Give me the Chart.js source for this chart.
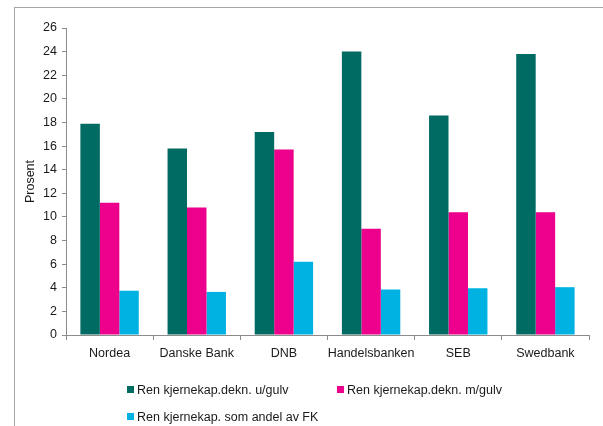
<!DOCTYPE html>
<html lang="no">
<head>
    <meta charset="UTF-8">
    <title>Ren kjernekapital</title>
    <script src="https://cdn.jsdelivr.net/npm/chart.js@4.4.0/dist/chart.umd.min.js"></script>
    <style>
        * { margin: 0; padding: 0; box-sizing: border-box; }
        body {
            width: 603px;
            height: 426px;
            background: #fff;
            font-family: 'Liberation Sans', Arial, sans-serif;
            position: relative;
            overflow: hidden;
        }
        .frame {
            position: absolute;
            left: 14px;
            top: 7px;
            width: 700px;
            height: 500px;
            border-left: 1px solid #a6a6a6;
            border-top: 1px solid #a6a6a6;
        }
        #wrap {
            position: absolute;
            left: 0;
            top: 0;
            width: 603px;
            height: 426px;
        }
        .legend {
            position: absolute;
            font-size: 12.5px;
            color: #1a1a1a;
            white-space: nowrap;
            line-height: 14px;
        }
        .legend i {
            display: inline-block;
            width: 7px;
            height: 7px;
            margin-right: 3px;
            vertical-align: 1px;
        }
    </style>
</head>
<body>
    <div class="frame"></div>
    <div id="wrap"><canvas id="chart" width="603" height="426"></canvas></div>
    <div id="legend"></div>

    <script>
        // data
        const banks = ['Nordea', 'Danske Bank', 'DNB', 'Handelsbanken', 'SEB', 'Swedbank'];
        const seriesNames = [
            'Ren kjernekap.dekn. u/gulv',
            'Ren kjernekap.dekn. m/gulv',
            'Ren kjernekap. som andel av FK'
        ];
        const utenGulv = [17.9, 15.8, 17.2, 24.0, 18.6, 23.8];
        const medGulv = [11.2, 10.8, 15.7, 9.0, 10.4, 10.4];
        const andelFK = [3.75, 3.65, 6.2, 3.85, 3.95, 4.05];
        const yTicks = [0, 2, 4, 6, 8, 10, 12, 14, 16, 18, 20, 22, 24, 26];

        const colors = ['#006b63', '#ec008c', '#00b2e2'];
        const values = [utenGulv, medGulv, andelFK];

        const axisColor = '#8c8c8c';
        const font = { family: "'Liberation Sans', Arial, sans-serif", size: 12.5 };

        new Chart(document.getElementById('chart'), {
            type: 'bar',
            data: {
                labels: banks,
                datasets: seriesNames.map((name, i) => ({
                    label: name,
                    data: values[i],
                    backgroundColor: colors[i],
                    borderWidth: 0,
                    categoryPercentage: 0.67,
                    barPercentage: 1.0
                }))
            },
            options: {
                responsive: false,
                animation: false,
                layout: { padding: { left: 19, right: 14, top: 28, bottom: 56 } },
                plugins: {
                    legend: { display: false },
                    tooltip: { enabled: false }
                },
                scales: {
                    x: {
                        grid: {
                            drawOnChartArea: false,
                            offset: true,
                            color: axisColor,
                            tickLength: 5
                        },
                        border: { color: axisColor },
                        ticks: { color: '#1a1a1a', font: font, padding: 6, maxRotation: 0, autoSkip: false },
                        afterFit: s => { s.height = 35; }
                    },
                    y: {
                        min: 0,
                        max: 26,
                        afterBuildTicks: s => { s.ticks = yTicks.map(v => ({ value: v })); },
                        grid: {
                            drawOnChartArea: false,
                            color: axisColor,
                            tickLength: 4
                        },
                        border: { color: axisColor },
                        ticks: { color: '#1a1a1a', font: font, padding: 5 },
                        title: { display: true, text: 'Prosent', color: '#1a1a1a', font: font },
                        afterFit: s => { s.width = 47; }
                    }
                }
            }
        });

        // legend laid out like the original, two columns
        const spots = [[127, 383], [337, 383], [127, 410]];
        const legend = document.getElementById('legend');
        seriesNames.forEach((name, i) => {
            const d = document.createElement('div');
            d.className = 'legend';
            d.style.left = spots[i][0] + 'px';
            d.style.top = spots[i][1] + 'px';
            d.innerHTML = '<i style="background:' + colors[i] + '"></i>' + name;
            legend.appendChild(d);
        });
    </script>
</body>
</html>
